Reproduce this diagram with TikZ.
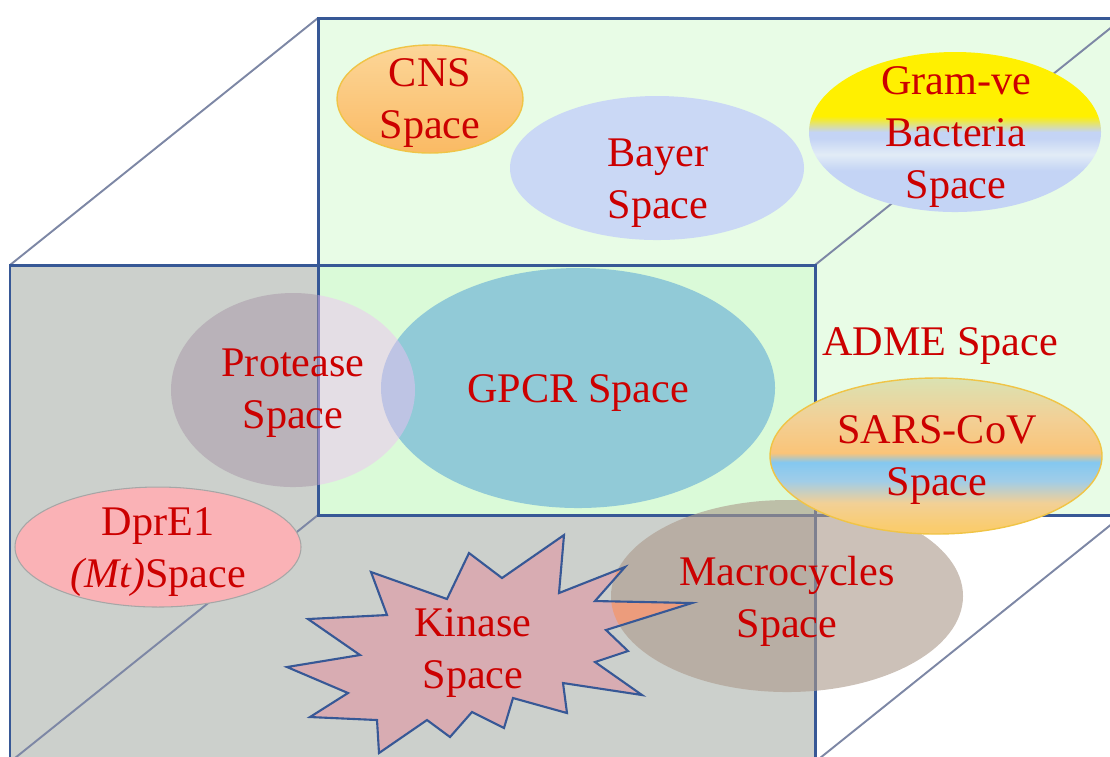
\documentclass[tikz,border=0pt]{standalone}
\usepackage{fontspec}
\setmainfont{Liberation Serif}
\usetikzlibrary{calc}

\definecolor{spacered}{RGB}{204,0,0}
\definecolor{edgeblue}{RGB}{55,88,150}
\definecolor{depthgray}{RGB}{125,135,165}
\definecolor{frontgray}{RGB}{204,208,204}
\definecolor{backgreen}{RGB}{232,252,230}
\definecolor{overlapgreen}{RGB}{218,250,216}
\definecolor{cnstop}{RGB}{252,214,152}
\definecolor{cnsbottom}{RGB}{250,186,100}
\definecolor{bayerblue}{RGB}{202,216,245}
\definecolor{gvyellow}{RGB}{255,240,0}
\definecolor{gvblue}{RGB}{196,212,245}
\definecolor{gvwhite}{RGB}{226,236,246}
\definecolor{gpcrblue}{RGB}{145,202,215}
\definecolor{protlight}{RGB}{240,191,244}
\definecolor{protdark}{RGB}{164,145,164}
\definecolor{dprpink}{RGB}{250,178,182}
\definecolor{macrobrown}{RGB}{172,154,139}
\definecolor{kinasepink}{RGB}{216,172,178}
\definecolor{kinaseorange}{RGB}{236,156,124}
\definecolor{sarsgreen}{RGB}{218,226,178}
\definecolor{sarsbeige}{RGB}{242,208,150}
\definecolor{sarsorange}{RGB}{250,196,120}
\definecolor{sarsblue}{RGB}{132,200,240}
\definecolor{sarslight}{RGB}{160,205,232}
\definecolor{sarsyellow}{RGB}{250,204,110}
\definecolor{rimorange}{RGB}{240,196,70}

\pgfdeclareverticalshading{gramve}{100bp}{color(0bp)=(gvblue); color(38bp)=(gvblue);
  color(43bp)=(gvwhite); color(48bp)=(gvblue); color(50bp)=(gvblue);
  color(55bp)=(gvyellow); color(100bp)=(gvyellow)}
\pgfdeclareverticalshading{sars}{100bp}{color(0bp)=(sarsyellow); color(27bp)=(sarsyellow);
  color(35bp)=(sarsbeige); color(42bp)=(sarslight); color(48bp)=(sarsblue);
  color(51bp)=(sarsorange); color(62bp)=(sarsbeige); color(75bp)=(sarsgreen);
  color(100bp)=(sarsgreen)}

\newcommand{\kinasestar}{(287,667) -- (360,655) -- (308,619) -- (387,615) -- (371,572) -- (447,599)
    -- (469,553) -- (502,578) -- (564,535) -- (559,593) -- (625,567) -- (595,601)
    -- (692,603) -- (606,630) -- (628,651) -- (595,662) -- (642,695) -- (563,683)
    -- (567,713) -- (513,698) -- (504,728) -- (472,712) -- (450,737) -- (427,720)
    -- (379,753) -- (377,720) -- (310,717) -- (348,693) -- cycle}

\begin{document}
\begin{tikzpicture}[x=0.01cm, y=-0.01cm,
        face/.style={draw=edgeblue, line width=0.85pt},
        depth/.style={draw=depthgray, line width=0.55pt},
        lbl/.style={text=spacered, align=center, font=\fontsize{12}{14.8}\selectfont}]
        \useasboundingbox (0,0) rectangle (1110,756);
        \clip (0,0) rectangle (1110,756);

        % Box corners
        \coordinate (ftl) at (10,265);
        \coordinate (ftr) at (815,265);
        \coordinate (fbl) at (10,762);
        \coordinate (fbr) at (815,762);
        \coordinate (btl) at (318,18);
        \coordinate (btr) at (1123,18);
        \coordinate (bbl) at (318,515);
        \coordinate (bbr) at (1123,515);

        % Faces
        \fill[frontgray] (ftl) rectangle (fbr);
        \fill[backgreen] (btl) rectangle (bbr);
        \fill[overlapgreen] (btl |- ftl) rectangle (ftr |- bbl);

        % Depth edges
        \draw[depth] (ftl) -- (btl);
        \draw[depth] (ftr) -- (btr);
        \draw[depth] (fbl) -- (bbl);
        \draw[depth] (fbr) -- (bbr);
        \draw[face] (ftl) rectangle (fbr);
        \draw[face] (btl) rectangle (bbr);

        % CNS
        \shade[top color=cnstop, bottom color=cnsbottom, draw=rimorange, line width=0.4pt]
            (430,99) ellipse [x radius=93, y radius=54];
        \node[lbl] (cns) at (430,103) {CNS\\Space};

        % Bayer
        \fill[bayerblue] (657,168) ellipse [x radius=147, y radius=72];
        \node[lbl] (bayer) at (658,183) {Bayer\\Space};

        % Gram-ve
        \shade[shading=gramve] (955,132) ellipse [x radius=146, y radius=80];
        \node[lbl] (gramve) at (956,137) {Gram-ve\\Bacteria\\Space};

        \node[lbl] (adme) at (940,346) {ADME Space};

        % GPCR
        \fill[gpcrblue] (578,388) ellipse [x radius=197, y radius=120];
        \node[lbl] (gpcr) at (578,393) {GPCR Space};

        % Protease
        \begin{scope}
            \clip (btl |- ftl) rectangle (ftr |- bbl);
            \fill[protlight, opacity=0.475] (293,390) ellipse [x radius=122, y radius=97];
        \end{scope}
        \begin{scope}
            \clip (ftl) rectangle (bbl);
            \fill[protdark, opacity=0.475] (293,390) ellipse [x radius=122, y radius=97];
        \end{scope}
        \node[lbl] (protease) at (293,393) {Protease\\Space};

        % DprE1
        \draw[fill=dprpink, draw=gray!70, line width=0.3pt] (158,547) ellipse [x radius=143, y radius=60];
        \node[lbl] (dpre) at (158,552) {DprE1\\\textit{(Mt)}Space};

        % Macrocycles
        \fill[macrobrown, opacity=0.61] (787,596) ellipse [x radius=176, y radius=96];
        \node[lbl] (macro) at (787,601) {Macrocycles\\Space};

        % Kinase
        \fill[kinasepink] \kinasestar;
        \begin{scope}
            \clip (787,596) ellipse [x radius=176, y radius=96];
            \fill[kinaseorange] \kinasestar;
        \end{scope}
        \draw[edgeblue, line width=0.6pt] \kinasestar;
        \node[lbl] (kinase) at (473,653) {Kinase\\Space};

        % SARS-CoV
        \shade[shading=sars, draw=rimorange, line width=0.4pt]
            (936,456) ellipse [x radius=166, y radius=78];
        \node[lbl] (sars) at (937,460) {SARS-CoV\\Space};

    \end{tikzpicture}
\end{document}
